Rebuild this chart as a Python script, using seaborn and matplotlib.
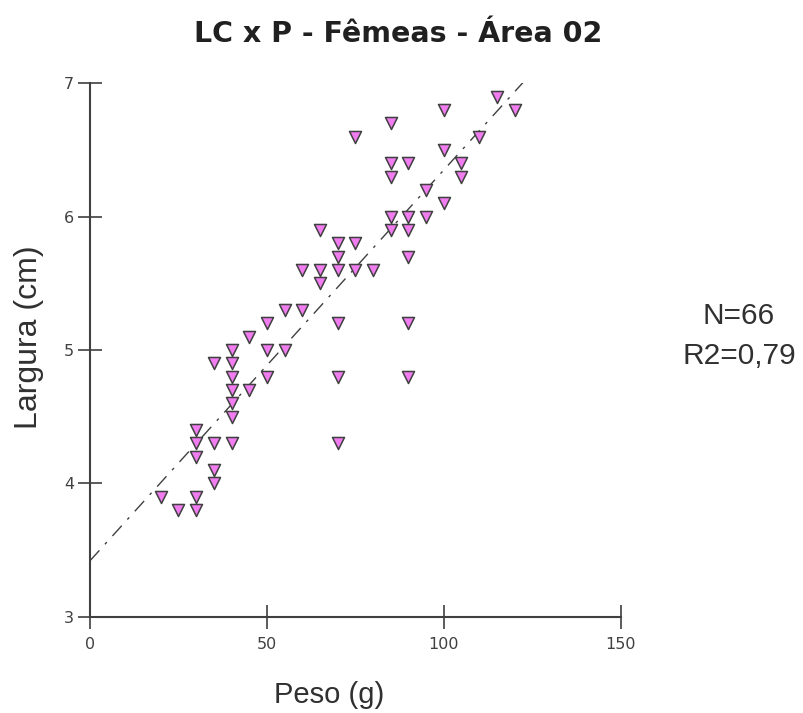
import matplotlib
matplotlib.use("Agg")
import matplotlib.pyplot as plt
import seaborn as sns
import pandas as pd

# Peso (g) e largura (cm) das fêmeas, área 02
peso = [20, 25, 30, 30, 30, 30, 30, 35, 35, 35, 35, 40, 40, 40, 40, 40, 40, 40,
        45, 45, 50, 50, 50, 55, 55, 60, 60, 65, 65, 65, 70, 70, 70, 70, 70, 70,
        75, 75, 75, 80, 85, 85, 85, 85, 85, 90, 90, 90, 90, 90, 90, 95, 95,
        100, 100, 100, 105, 105, 110, 115, 120]
largura = [3.9, 3.8, 3.8, 3.9, 4.2, 4.3, 4.4, 4.0, 4.1, 4.3, 4.9, 4.3, 4.5, 4.6,
           4.7, 4.8, 4.9, 5.0, 4.7, 5.1, 4.8, 5.0, 5.2, 5.0, 5.3, 5.3, 5.6, 5.5,
           5.6, 5.9, 4.3, 4.8, 5.2, 5.6, 5.7, 5.8, 5.6, 5.8, 6.6, 5.6, 5.9, 6.0,
           6.3, 6.4, 6.7, 4.8, 5.2, 5.7, 5.9, 6.0, 6.4, 6.0, 6.2, 6.1, 6.5, 6.8,
           6.3, 6.4, 6.6, 6.9, 6.8]
xticks = [0, 50, 100, 150]
yticks = [3, 4, 5, 6, 7]

df = pd.DataFrame({"Peso": peso, "Largura": largura})

sns.set_style("white")
plt.rcParams['font.family'] = ['Liberation Sans', 'DejaVu Sans']

cinza = '#404040'
fig = plt.figure(figsize=(8.04, 7.13), dpi=100)
ax = fig.add_axes([0.112, 0.135, 0.66, 0.748])
ax.set_xlim(0, 150)
ax.set_ylim(3, 7)

sns.regplot(data=df, x="Peso", y="Largura", scatter=False, ci=None, truncate=False,
            ax=ax, line_kws={'color': cinza, 'lw': 1, 'ls': (0, (10, 6, 2, 6))})
sns.scatterplot(data=df, x="Peso", y="Largura", marker='v', s=75, color='#f07cf0',
                edgecolor=cinza, linewidth=1.1, ax=ax, zorder=3)

ax.set_xlim(0, 150)
ax.set_ylim(3, 7)
ax.set_xticks(xticks)
ax.set_yticks(yticks)
sns.despine(ax=ax)
for s in ['left', 'bottom']:
    ax.spines[s].set_color(cinza)
    ax.spines[s].set_linewidth(1.5)
ax.tick_params(bottom=True, left=True, direction='inout', length=17, width=1.2,
               color=cinza, labelcolor=cinza, labelsize=11.5)
ax.tick_params(axis='x', pad=6)
ax.tick_params(axis='y', pad=3)
for lab in ax.get_xticklabels() + ax.get_yticklabels():
    lab.set_family('DejaVu Sans')
ax.set_xlabel('Peso (g)', fontsize=21, color='#303030')
ax.set_ylabel('Largura (cm)', fontsize=23, color='#303030')
ax.xaxis.set_label_coords(0.45, -0.12)
ax.yaxis.set_label_coords(-0.086, 0.525)

fig.text(0.495, 0.953, 'LC x P - Fêmeas - Área 02', ha='center', va='center',
         fontsize=20.5, fontweight='bold', color='#202020', family='DejaVu Sans')
fig.text(0.919, 0.557, 'N=66', ha='center', va='center', fontsize=21.5, color='#303030')
fig.text(0.919, 0.501, 'R2=0,79', ha='center', va='center', fontsize=21.5, color='#303030')

fig.savefig('out.png', dpi=100)
